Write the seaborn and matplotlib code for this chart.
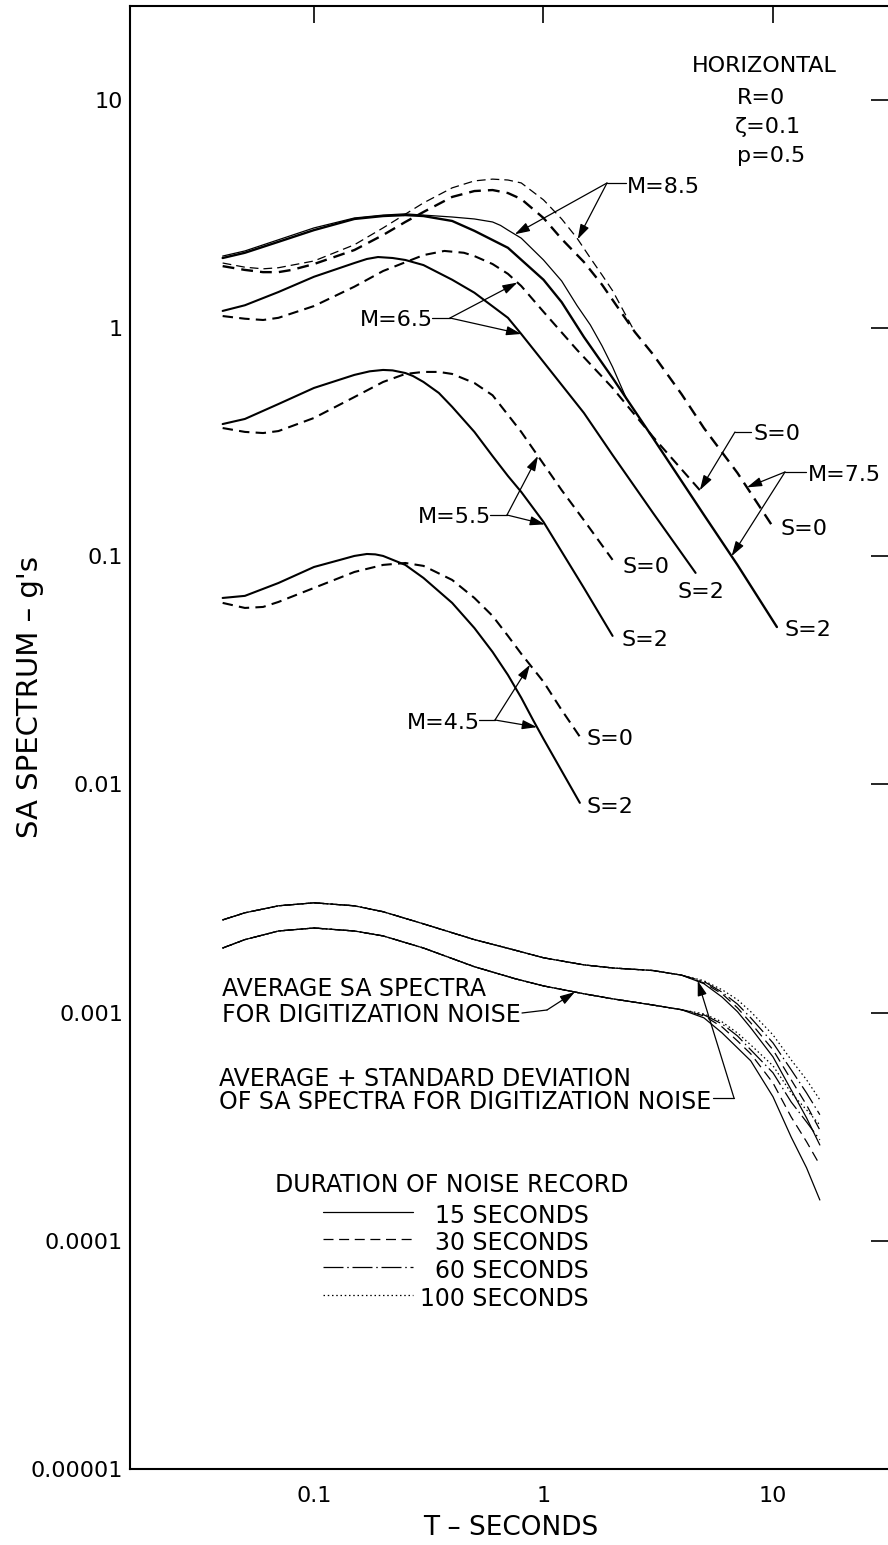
import numpy as np
import pandas as pd
import matplotlib
matplotlib.use("Agg")
import matplotlib.pyplot as plt
from matplotlib.lines import Line2D
from matplotlib.ticker import FixedLocator, FixedFormatter, NullLocator
import seaborn as sns

# ---------------- data: SA spectra (g) vs period T (s) ----------------
T_m85_s2 = [0.04, 0.05, 0.07, 0.1, 0.15, 0.2, 0.25, 0.3, 0.4, 0.5, 0.6, 0.65, 0.7, 0.8, 1.0, 1.2, 1.4, 1.6, 1.8, 2.0, 2.3]
SA_m85_s2 = [2.07, 2.18, 2.44, 2.75, 3.04, 3.13, 3.17, 3.13, 3.07, 3.01, 2.92, 2.82, 2.69, 2.48, 1.99, 1.61, 1.256, 1.033, 0.836, 0.676, 0.49]

T_m85_s0 = [0.04, 0.05, 0.06, 0.07, 0.1, 0.15, 0.2, 0.3, 0.4, 0.5, 0.6, 0.7, 0.8, 1.0, 1.2, 1.4, 1.6, 1.8, 2.0, 2.5]
SA_m85_s0 = [1.93, 1.85, 1.82, 1.84, 1.97, 2.32, 2.75, 3.54, 4.12, 4.42, 4.50, 4.46, 4.33, 3.65, 3.01, 2.48, 2.03, 1.71, 1.46, 0.962]

T_m75_s2 = [0.04, 0.05, 0.07, 0.1, 0.15, 0.2, 0.25, 0.3, 0.4, 0.5, 0.7, 1.0, 1.2, 1.5, 2.0, 3.0, 5.0, 7.0, 10.4]
SA_m75_s2 = [2.03, 2.14, 2.39, 2.69, 3.01, 3.10, 3.13, 3.10, 2.95, 2.67, 2.25, 1.63, 1.30, 0.915, 0.605, 0.330, 0.152, 0.0917, 0.049]

T_m75_s0 = [0.04, 0.05, 0.06, 0.07, 0.08, 0.1, 0.15, 0.2, 0.25, 0.3, 0.4, 0.5, 0.6, 0.7, 0.8, 1.0, 1.2, 1.5, 1.8, 2.0, 2.5, 3.0, 4.0, 5.0, 7.0, 10.0]
SA_m75_s0 = [1.87, 1.80, 1.76, 1.76, 1.80, 1.91, 2.20, 2.56, 2.92, 3.23, 3.76, 3.99, 4.03, 3.91, 3.68, 3.04, 2.46, 1.95, 1.55, 1.33, 0.962, 0.768, 0.513, 0.365, 0.232, 0.1345]

T_m65_s2 = [0.04, 0.05, 0.07, 0.1, 0.15, 0.17, 0.19, 0.22, 0.25, 0.3, 0.4, 0.5, 0.7, 0.8, 1.0, 1.5, 2.0, 3.0, 4.6]
SA_m65_s2 = [1.19, 1.26, 1.44, 1.68, 1.93, 2.01, 2.05, 2.03, 1.99, 1.89, 1.63, 1.43, 1.11, 0.943, 0.711, 0.425, 0.278, 0.155, 0.0846]

T_m65_s0 = [0.04, 0.05, 0.06, 0.07, 0.1, 0.15, 0.2, 0.3, 0.37, 0.45, 0.5, 0.6, 0.7, 0.8, 1.0, 1.4, 2.0, 3.0, 4.8]
SA_m65_s0 = [1.13, 1.10, 1.086, 1.11, 1.25, 1.52, 1.78, 2.09, 2.18, 2.14, 2.07, 1.91, 1.73, 1.53, 1.18, 0.803, 0.547, 0.334, 0.195]

T_m55_s2 = [0.04, 0.05, 0.07, 0.1, 0.15, 0.175, 0.2, 0.22, 0.25, 0.27, 0.3, 0.35, 0.4, 0.5, 0.6, 0.7, 0.8, 1.0, 1.5, 2.0]
SA_m55_s2 = [0.380, 0.400, 0.465, 0.547, 0.624, 0.647, 0.656, 0.653, 0.636, 0.617, 0.581, 0.520, 0.452, 0.351, 0.275, 0.225, 0.1915, 0.1415, 0.0727, 0.0448]

T_m55_s0 = [0.04, 0.05, 0.06, 0.07, 0.1, 0.15, 0.2, 0.25, 0.3, 0.35, 0.4, 0.5, 0.6, 0.7, 0.8, 1.0, 1.2, 1.5, 2.0]
SA_m55_s0 = [0.365, 0.351, 0.347, 0.354, 0.404, 0.499, 0.581, 0.630, 0.643, 0.643, 0.630, 0.575, 0.508, 0.417, 0.351, 0.254, 0.195, 0.144, 0.0965]

T_m45_s2 = [0.04, 0.05, 0.07, 0.1, 0.13, 0.15, 0.17, 0.185, 0.2, 0.25, 0.3, 0.4, 0.5, 0.6, 0.7, 0.8, 0.9, 1.0, 1.2, 1.44]
SA_m45_s2 = [0.0657, 0.0671, 0.0764, 0.0898, 0.0965, 0.1004, 0.1024, 0.1020, 0.1004, 0.0917, 0.0804, 0.0625, 0.0485, 0.0381, 0.0302, 0.0240, 0.0192, 0.01584, 0.01147, 0.00831]

T_m45_s0 = [0.04, 0.05, 0.06, 0.07, 0.1, 0.15, 0.2, 0.25, 0.3, 0.4, 0.5, 0.6, 0.7, 0.8, 1.0, 1.2, 1.44]
SA_m45_s0 = [0.0625, 0.0594, 0.0600, 0.0631, 0.0727, 0.0854, 0.0917, 0.0935, 0.0908, 0.0788, 0.0657, 0.0548, 0.0448, 0.0374, 0.0282, 0.0212, 0.0162]

# digitization noise spectra
T_noise = [0.04, 0.05, 0.07, 0.1, 0.15, 0.2, 0.3, 0.5, 0.75, 1.0, 1.5, 2.0, 3.0, 4.0,
           5.0, 6.0, 7.0, 8.0, 10.0, 12.0, 14.0, 16.0]
sd_common = [2.55e-3, 2.74e-3, 2.94e-3, 3.03e-3, 2.94e-3, 2.77e-3, 2.45e-3, 2.09e-3, 1.88e-3, 1.74e-3, 1.62e-3, 1.57e-3, 1.53e-3, 1.46e-3]
sd_tail_15 = [1.34e-3, 1.17e-3, 1.01e-3, 8.58e-4, 6.40e-4, 4.59e-4, 3.46e-4, 2.63e-4]
sd_tail_30 = [1.35e-3, 1.21e-3, 1.05e-3, 9.02e-4, 6.87e-4, 5.08e-4, 3.94e-4, 3.06e-4]
sd_tail_60 = [1.37e-3, 1.23e-3, 1.09e-3, 9.49e-4, 7.37e-4, 5.62e-4, 4.45e-4, 3.57e-4]
sd_tail_100 = [1.38e-3, 1.26e-3, 1.14e-3, 1.01e-3, 7.99e-4, 6.21e-4, 5.08e-4, 4.15e-4]
avg_common = [1.92e-3, 2.09e-3, 2.28e-3, 2.35e-3, 2.28e-3, 2.17e-3, 1.92e-3, 1.59e-3, 1.41e-3, 1.31e-3, 1.21e-3, 1.15e-3, 1.08e-3, 1.03e-3]
avg_tail_15 = [9.49e-4, 8.15e-4, 7.01e-4, 6.15e-4, 4.28e-4, 2.85e-4, 2.09e-4, 1.51e-4]
avg_tail_30 = [9.68e-4, 8.66e-4, 7.52e-4, 6.60e-4, 4.92e-4, 3.49e-4, 2.72e-4, 2.15e-4]
avg_tail_60 = [9.78e-4, 8.93e-4, 7.91e-4, 6.87e-4, 5.45e-4, 4.06e-4, 3.32e-4, 2.77e-4]
avg_tail_100 = [9.88e-4, 9.11e-4, 8.15e-4, 7.22e-4, 5.85e-4, 4.45e-4, 3.75e-4, 3.22e-4]

durations = ["15 SECONDS", "30 SECONDS", "60 SECONDS", "100 SECONDS"]

x_ticks = [0.1, 1, 10]
x_ticklabels = ["0.1", "1", "10"]
y_ticks = [1e-5, 1e-4, 1e-3, 1e-2, 1e-1, 1, 10]
y_ticklabels = ["0.00001", "0.0001", "0.001", "0.01", "0.1", "1", "10"]

# ---------------- figure ----------------
sns.set_theme(style="white")
plt.rcParams["font.family"] = ["DejaVu Sans"]
plt.rcParams["text.color"] = "black"

W, H = 888, 1545
fig = plt.figure(figsize=(W / 100, H / 100), dpi=100)
ax = fig.add_axes([130 / W, 1 - 1469 / H, 758 / W, (1469 - 6) / H])
ax.set_xscale("log")
ax.set_yscale("log")
ax.set_xlim(0.01579, 31.7)
ax.set_ylim(1e-5, 25.82)

def curve(T, SA, ls="-", lw=1.6):
    df = pd.DataFrame({"T": T, "SA": SA})
    sns.lineplot(data=df, x="T", y="SA", ax=ax, color="black", linewidth=lw,
                 linestyle=ls, estimator=None, sort=False, legend=False)

THICK_DASH = (0, (5.0, 3.0))
THIN_DASH = (0, (7.0, 4.0))
curve(T_m85_s2, SA_m85_s2, "-", 0.9)
curve(T_m85_s0, SA_m85_s0, THIN_DASH, 0.9)
curve(T_m75_s2, SA_m75_s2, "-", 1.7)
curve(T_m75_s0, SA_m75_s0, THICK_DASH, 1.7)
curve(T_m65_s2, SA_m65_s2, "-", 1.5)
curve(T_m65_s0, SA_m65_s0, THICK_DASH, 1.5)
curve(T_m55_s2, SA_m55_s2, "-", 1.5)
curve(T_m55_s0, SA_m55_s0, THICK_DASH, 1.5)
curve(T_m45_s2, SA_m45_s2, "-", 1.5)
curve(T_m45_s0, SA_m45_s0, THICK_DASH, 1.5)

NOISE_STYLES = ["-", (0, (8, 4.5)), (0, (16, 3, 1.2, 3)), (0, (1.2, 2.2))]
sd_tails = [sd_tail_15, sd_tail_30, sd_tail_60, sd_tail_100]
avg_tails = [avg_tail_15, avg_tail_30, avg_tail_60, avg_tail_100]
for ls, tail in zip(NOISE_STYLES, sd_tails):
    curve(T_noise, sd_common + tail, ls, 0.9)
for ls, tail in zip(NOISE_STYLES, avg_tails):
    curve(T_noise, avg_common + tail, ls, 0.9)

ax.set_xlabel("")
ax.set_ylabel("")

# axes styling
for s in ["left", "bottom", "top"]:
    ax.spines[s].set_linewidth(1.5)
    ax.spines[s].set_color("black")
ax.spines["right"].set_visible(False)
ax.xaxis.set_major_locator(FixedLocator(x_ticks))
ax.xaxis.set_major_formatter(FixedFormatter(x_ticklabels))
ax.yaxis.set_major_locator(FixedLocator(y_ticks))
ax.yaxis.set_major_formatter(FixedFormatter(y_ticklabels))
ax.xaxis.set_minor_locator(NullLocator())
ax.yaxis.set_minor_locator(NullLocator())
ax.tick_params(which="major", direction="in", length=12, width=1.2, color="black",
               top=True, right=True, labelsize=16, labelcolor="black")
ax.tick_params(axis="x", pad=12)
ax.tick_params(axis="y", pad=5)

# ---------------- annotations ----------------
def fp(x, y):
    return (x / W, 1 - y / H)

def ftext(x, yc, s, size=16, ha="left", **kw):
    fig.text(x / W, 1 - (yc + 0.506 * size) / H, s, ha=ha, va="baseline",
             fontsize=size, color="black", **kw)

def fline(x0, y0, x1, y1, lw=0.9, ls="-"):
    fig.add_artist(Line2D([x0 / W, x1 / W], [1 - y0 / H, 1 - y1 / H],
                          transform=fig.transFigure, color="black", lw=lw, linestyle=ls))

def on_curve(Ts, SAs, t):
    return 10 ** np.interp(np.log10(t), np.log10(Ts), np.log10(SAs))

ARROW = dict(arrowstyle="-|>,head_length=0.9,head_width=0.28", color="black",
             lw=0.9, shrinkA=0, shrinkB=0, mutation_scale=10)

def farrow(jx, jy, t, Ts, SAs):
    ax.annotate("", xy=(t, on_curve(Ts, SAs, t)), xycoords="data",
                xytext=fp(jx, jy), textcoords="figure fraction", arrowprops=ARROW)

def endlabel(Ts, SAs, s, dx, dy):
    ax.annotate(s, xy=(Ts[-1], SAs[-1]), xycoords="data", xytext=(dx, dy),
                textcoords="offset pixels", ha="left", va="baseline", fontsize=16)

# header
ftext(764, 64, "HORIZONTAL", ha="center")
ftext(737, 96, "R=0")
ftext(735, 125, "\u03b6=0.1")
ftext(737, 154, "p=0.5")

# magnitude labels
ftext(627, 185, "M=8.5")
fline(607, 183, 626, 183)
farrow(607, 183, 0.75, T_m85_s2, SA_m85_s2)
farrow(607, 183, 1.41, T_m85_s0, SA_m85_s0)

ftext(360, 318, "M=6.5")
fline(432, 318, 450, 318)
farrow(450, 318, 0.77, T_m65_s0, SA_m65_s0)
farrow(450, 318, 0.80, T_m65_s2, SA_m65_s2)

ftext(753, 432, "S=0")
fline(735, 432, 751, 432)
farrow(735, 432, T_m65_s0[-1], T_m65_s0, SA_m65_s0)

ftext(808, 473, "M=7.5")
fline(785, 472, 806, 472)
farrow(785, 472, 7.7, T_m75_s0, SA_m75_s0)
farrow(785, 472, 6.6, T_m75_s2, SA_m75_s2)

ftext(418, 515, "M=5.5")
fline(490, 515, 507, 515)
farrow(507, 515, 0.946, T_m55_s0, SA_m55_s0)
farrow(507, 515, 1.015, T_m55_s2, SA_m55_s2)

ftext(407, 721, "M=4.5")
fline(479, 720, 495, 720)
farrow(495, 720, 0.873, T_m45_s0, SA_m45_s0)
farrow(495, 720, 0.937, T_m45_s2, SA_m45_s2)

endlabel(T_m75_s0, SA_m75_s0, "S=0", 7, -8)
endlabel(T_m75_s2, SA_m75_s2, "S=2", 8, -9)
endlabel(T_m65_s2, SA_m65_s2, "S=2", -18, -25)
endlabel(T_m55_s0, SA_m55_s0, "S=0", 10, -13)
endlabel(T_m55_s2, SA_m55_s2, "S=2", 9, -10)
endlabel(T_m45_s0, SA_m45_s0, "S=0", 7, -8)
endlabel(T_m45_s2, SA_m45_s2, "S=2", 7, -10)

# noise annotations
ftext(222, 987, "AVERAGE SA SPECTRA", size=17)
ftext(222, 1013, "FOR DIGITIZATION NOISE", size=17)
fline(522, 1013, 547, 1010)
farrow(547, 1010, 1.37, T_noise, avg_common + avg_tail_30)

ftext(219, 1077, "AVERAGE + STANDARD DEVIATION", size=17)
ftext(219, 1100, "OF SA SPECTRA FOR DIGITIZATION NOISE", size=17)
fline(713, 1098, 734, 1098)
farrow(734, 1098, 4.7, T_noise, sd_common + sd_tail_30)

# legend of durations
ftext(275, 1183, "DURATION OF NOISE RECORD", size=17)
leg_y = [1212, 1239, 1267, 1295]
for ls, lab, y in zip(NOISE_STYLES, durations, leg_y):
    fline(323, y, 413, y, lw=0.9, ls=ls)
    ftext(589, y + 2, lab, size=17, ha="right")

# axis titles
fig.text(30 / W, 1 - 697 / H, "SA SPECTRUM \u2013 g's", rotation=90, ha="center",
         va="center", fontsize=21, color="black")
fig.text(511 / W, 1 - 1528 / H, "T \u2013 SECONDS", ha="center", va="center",
         fontsize=19, color="black")

fig.savefig("out.png", dpi=100)
